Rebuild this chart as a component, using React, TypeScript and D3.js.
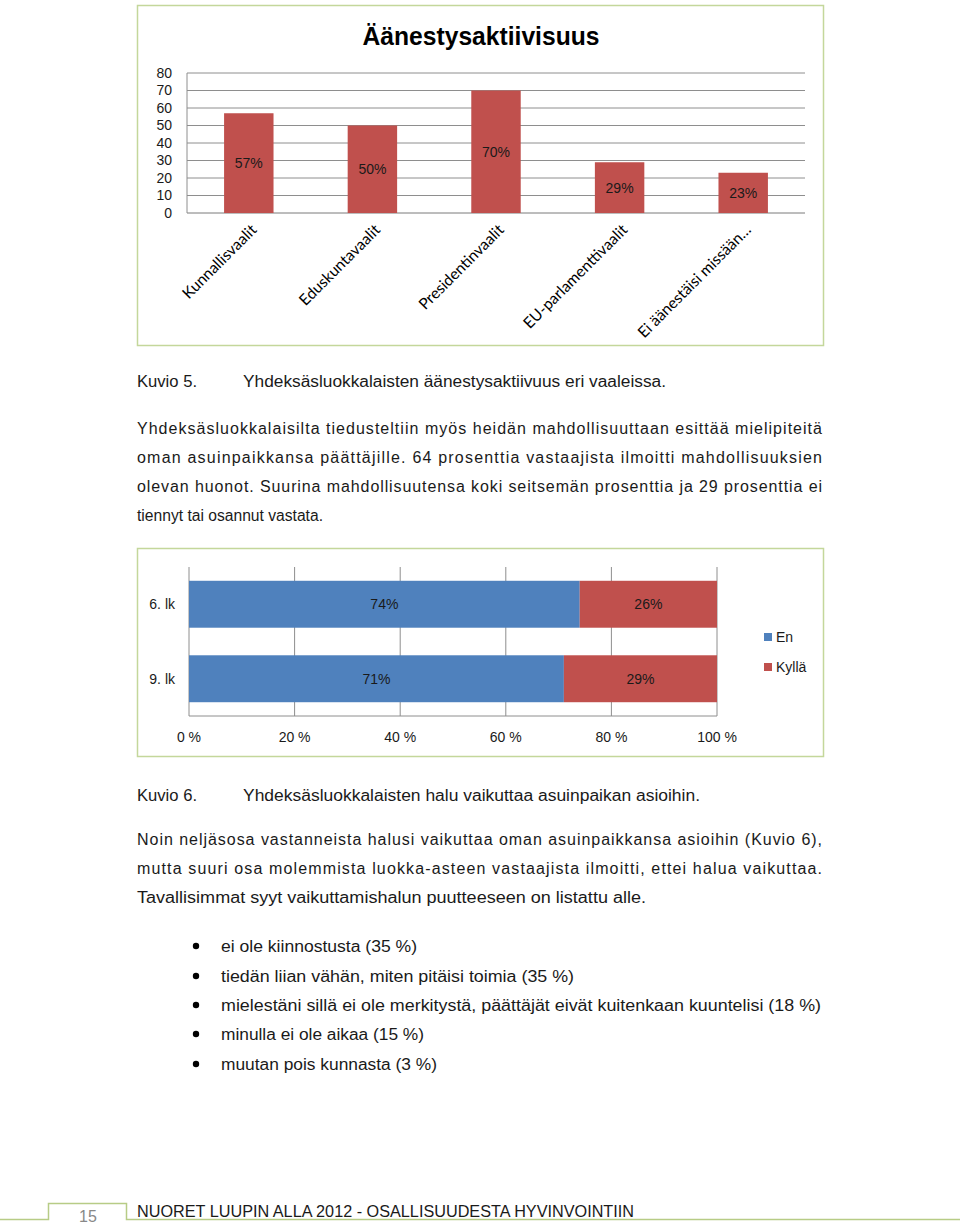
import React from "react";
import * as d3 from "d3";

// ---------- Chart 1 data ----------
const electionCategories = [
  "Kunnallisvaalit",
  "Eduskuntavaalit",
  "Presidentinvaalit",
  "EU-parlamenttivaalit",
  "Ei äänestäisi missään…",
];
const electionValues = [57, 50, 70, 29, 23];
const electionTicks = [0, 10, 20, 30, 40, 50, 60, 70, 80];
const chart1Title = "Äänestysaktiivisuus";

// ---------- Chart 2 data ----------
const gradeCategories = ["6. lk", "9. lk"];
const seriesNames = ["En", "Kyllä"];
const enValues = [74, 71];
const kyllaValues = [26, 29];
const pctTicks = [0, 20, 40, 60, 80, 100];

// ---------- Text ----------
const caption5 = ["Kuvio 5.", "Yhdeksäsluokkalaisten äänestysaktiivuus eri vaaleissa."];
const para1 = [
  "Yhdeksäsluokkalaisilta tiedusteltiin myös heidän mahdollisuuttaan esittää mielipiteitä",
  "oman asuinpaikkansa päättäjille. 64 prosenttia vastaajista ilmoitti mahdollisuuksien",
  "olevan huonot. Suurina mahdollisuutensa koki seitsemän prosenttia ja 29 prosenttia ei",
  "tiennyt tai osannut vastata.",
];
const caption6 = ["Kuvio 6.", "Yhdeksäsluokkalaisten halu vaikuttaa asuinpaikan asioihin."];
const para2 = [
  "Noin neljäsosa vastanneista halusi vaikuttaa oman asuinpaikkansa asioihin (Kuvio 6),",
  "mutta suuri osa molemmista luokka-asteen vastaajista ilmoitti, ettei halua vaikuttaa.",
  "Tavallisimmat syyt vaikuttamishalun puutteeseen on listattu alle.",
];
const bullets = [
  "ei ole kiinnostusta (35 %)",
  "tiedän liian vähän, miten pitäisi toimia (35 %)",
  "mielestäni sillä ei ole merkitystä, päättäjät eivät kuitenkaan kuuntelisi (18 %)",
  "minulla ei ole aikaa (15 %)",
  "muutan pois kunnasta (3 %)",
];
const footerText = "NUORET LUUPIN ALLA 2012 - OSALLISUUDESTA HYVINVOINTIIN";
const pageNumber = "15";

const RED = "#C0504D";
const BLUE = "#4F81BD";
const BORDER = "#C4D79B";
const GRID = "#8E8E8E";
const TXT = "#1a1a1a";
const ARIAL = "'Liberation Sans', Arial, sans-serif";

function Chart1() {
  const x = d3.scaleBand<string>().domain(electionCategories).range([187, 805]).padding(0);
  const y = d3.scaleLinear().domain([0, 80]).range([213, 73]);
  const bw = x.step() * 0.4;
  return (
    <g>
      <rect x={137.5} y={5.5} width={686} height={340} fill="#fff" stroke={BORDER} strokeWidth={1.5} />
      <text x={481} y={45} textAnchor="middle" fontFamily={ARIAL} fontWeight="bold" fontSize={25}
        textLength={237} lengthAdjust="spacingAndGlyphs" fill="#000">{chart1Title}</text>
      {electionTicks.map((t) => (
        <g key={t}>
          <line x1={187} x2={805} y1={y(t)} y2={y(t)} stroke={t === 0 ? "#7a7a7a" : GRID} strokeWidth={1} />
          <text x={172} y={y(t)} dy="0.35em" textAnchor="end" fontFamily={ARIAL} fontSize={14} fill={TXT}>{t}</text>
        </g>
      ))}
      <line x1={187} x2={187} y1={y(80)} y2={y(0)} stroke={GRID} strokeWidth={1} />
      {electionCategories.map((c, i) => {
        const cx = (x(c) as number) + x.step() / 2;
        const v = electionValues[i];
        return (
          <g key={c}>
            <rect x={cx - bw / 2} y={y(v)} width={bw} height={y(0) - y(v)} fill={RED} />
            <text x={cx} y={(y(v) + y(0)) / 2} dy="0.35em" textAnchor="middle" fontFamily={ARIAL} fontSize={14} fill={TXT}>{v}%</text>
            <text transform={`translate(${cx + 5},${227}) rotate(-45)`} textAnchor="end" dy="0.35em"
              fontFamily="Lato, 'Open Sans', sans-serif" fontSize={15.5} fill="#000">{c}</text>
          </g>
        );
      })}
    </g>
  );
}

function Chart2() {
  const x = d3.scaleLinear().domain([0, 100]).range([189, 717]);
  const y = d3.scaleBand<string>().domain(gradeCategories).range([567, 716]).padding(0);
  const bh = y.step() * 0.63;
  const rows = gradeCategories.map((g, i) => ({ g, En: enValues[i], Kyllä: kyllaValues[i] }));
  const stack = d3.stack<any>().keys(seriesNames)(rows);
  const colors = [BLUE, RED];
  return (
    <g>
      <rect x={137.5} y={548.5} width={686} height={208} fill="#fff" stroke={BORDER} strokeWidth={1.5} />
      {pctTicks.map((t) => (
        <g key={t}>
          <line x1={x(t)} x2={x(t)} y1={567} y2={716} stroke={GRID} strokeWidth={1} />
          <text x={x(t)} y={737} dy="0.35em" textAnchor="middle" fontFamily={ARIAL} fontSize={14} fill={TXT}>{t} %</text>
        </g>
      ))}
      <line x1={x(0)} x2={x(100)} y1={716} y2={716} stroke={GRID} strokeWidth={1} />
      {stack.map((s, si) =>
        s.map((d, i) => {
          const cy = (y(gradeCategories[i]) as number) + y.step() / 2;
          return (
            <g key={`${si}-${i}`}>
              <rect x={x(d[0])} y={cy - bh / 2} width={x(d[1]) - x(d[0])} height={bh} fill={colors[si]} />
              <text x={(x(d[0]) + x(d[1])) / 2} y={cy} dy="0.35em" textAnchor="middle" fontFamily={ARIAL} fontSize={14} fill={TXT}>
                {d[1] - d[0]}%
              </text>
            </g>
          );
        })
      )}
      {gradeCategories.map((g) => (
        <text key={g} x={175} y={(y(g) as number) + y.step() / 2} dy="0.35em" textAnchor="end" fontFamily={ARIAL} fontSize={14} fill={TXT}>{g}</text>
      ))}
      {seriesNames.map((n, i) => (
        <g key={n}>
          <rect x={764} y={633 + i * 30} width={8} height={8} fill={colors[i]} />
          <text x={776} y={637 + i * 30} dy="0.35em" fontFamily={ARIAL} fontSize={14} fill={TXT}>{n}</text>
        </g>
      ))}
    </g>
  );
}

function Line({ x, y, text, width, justify }: { x: number; y: number; text: string; width?: number; justify?: boolean }) {
  return (
    <text x={x} y={y} fontFamily={ARIAL} fontSize={16} fill={TXT}
      textLength={width} lengthAdjust={justify ? "spacing" : "spacingAndGlyphs"}>{text}</text>
  );
}

export default function App() {
  const p1Widths = [685, 685, 685, 186];
  const p2Widths = [685, 685, 509];
  const bulletWidths = [196, 353, 600, 203, 216];
  const bulletY = [946, 976, 1005, 1034, 1064];
  return (
    <svg width={960} height={1227} style={{ position: "absolute", left: 0, top: 0, background: "#fff" }}>
      <rect width={960} height={1227} fill="#fff" />
      <Chart1 />
      <Line x={137} y={387} text={caption5[0]} width={60} />
      <Line x={243} y={387} text={caption5[1]} width={423} />
      {para1.map((t, i) => (
        <Line key={i} x={137} y={434 + i * 29} text={t} width={p1Widths[i]} justify={i < 3} />
      ))}
      <Chart2 />
      <Line x={137} y={801} text={caption6[0]} width={60} />
      <Line x={243} y={801} text={caption6[1]} width={457} />
      {para2.map((t, i) => (
        <Line key={i} x={137} y={845 + i * 29} text={t} width={p2Widths[i]} justify={i < 2} />
      ))}
      {bullets.map((t, i) => (
        <g key={i}>
          <circle cx={196} cy={bulletY[i]} r={3.2} fill="#000" />
          <Line x={221} y={bulletY[i] + 6} text={t} width={bulletWidths[i]} />
        </g>
      ))}
      <path d="M0,1219.5 H48.5 V1203.5 H126.5 V1219.5 H960" fill="none" stroke="#B7CC86" strokeWidth={1.5} />
      <text x={88} y={1222} textAnchor="middle" fontFamily={ARIAL} fontSize={16} fill="#888">{pageNumber}</text>
      <text x={137} y={1217} fontFamily={ARIAL} fontSize={16} fill={TXT} textLength={497} lengthAdjust="spacingAndGlyphs">{footerText}</text>
    </svg>
  );
}
